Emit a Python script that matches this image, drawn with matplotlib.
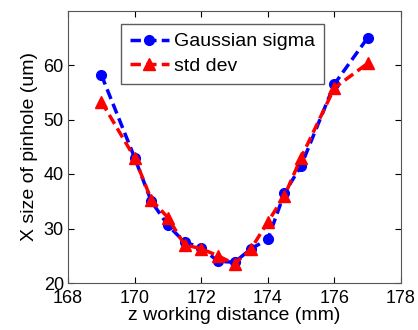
import matplotlib
matplotlib.use("Agg")
import matplotlib.pyplot as plt

z = [169, 170, 170.5, 171, 171.5, 172, 172.5, 173, 173.5, 174, 174.5, 175, 176, 177]
gauss = [58.2, 43.0, 35.0, 30.6, 27.5, 26.5, 24.0, 23.8, 26.3, 28.0, 36.5, 41.5, 56.5, 65.0]
stddev = [53.3, 43.0, 35.3, 32.0, 27.0, 26.3, 25.0, 23.5, 26.3, 31.2, 36.0, 43.0, 55.8, 60.3]

plt.rcParams['font.family'] = ['Liberation Sans', 'DejaVu Sans']
fig = plt.figure(figsize=(4.18, 3.30), dpi=100)
ax = fig.add_axes([68/418, 1-283/330, (401-68)/418, (283-10.5)/330])

ax.plot(z, gauss, color='#0000ff', linestyle='--', linewidth=2.5, marker='o', markersize=7, dashes=(3, 1.5), label='Gaussian sigma')
ax.plot(z, stddev, color='#ff0000', linestyle='--', linewidth=2.5, marker='^', markersize=8, dashes=(3, 1.5), label='std dev')

ax.set_xlim(168, 178)
ax.set_ylim(20, 70)
ax.set_xticks([168, 170, 172, 174, 176, 178])
ax.set_yticks([20, 30, 40, 50, 60])
ax.tick_params(direction='in', labelsize=13, length=4, top=True, right=True)
ax.tick_params(axis='x', pad=5)
ax.tick_params(axis='y', pad=3)
for s in ax.spines.values():
    s.set_color('#555555')
ax.set_xlabel('z working distance (mm)', fontsize=14, labelpad=0)
ax.set_ylabel('X size of pinhole (um)', fontsize=14, labelpad=4)
leg = ax.legend(loc='upper left', bbox_to_anchor=(0.159, 0.950), fontsize=14, frameon=True, fancybox=False,
                edgecolor='#333333', handlelength=2.0, borderpad=0.45, labelspacing=0.35, handletextpad=0.3,
                borderaxespad=0)
leg.get_frame().set_linewidth(1.0)
fig.savefig('out.png', dpi=100)
